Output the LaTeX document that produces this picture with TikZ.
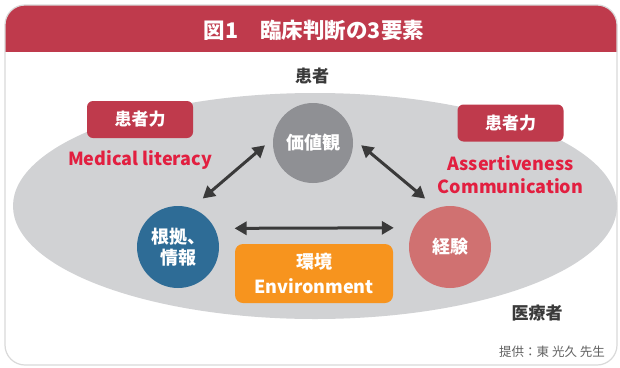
\documentclass[tikz,border=0pt]{standalone}
\usepackage{fontspec}
\setmainfont{Noto Sans CJK JP}
\usetikzlibrary{arrows.meta}

\definecolor{hdrred}{HTML}{BF3A4C}
\definecolor{litred}{HTML}{E21F40}
\definecolor{ovalgray}{HTML}{D1D2D4}
\definecolor{valgray}{HTML}{8F9094}
\definecolor{evblue}{HTML}{2E6C96}
\definecolor{expred}{HTML}{D07171}
\definecolor{envorange}{HTML}{F7941E}
\definecolor{ink}{HTML}{3A3A3A}

\tikzset{
  ball/.style={circle, minimum size=82pt, inner sep=0pt, outer sep=0pt,
    text=white, align=center, font=\fontsize{18}{21}\selectfont\bfseries},
  tagbox/.style={fill=hdrred, rounded corners=6pt, text=white,
    minimum width=106pt, minimum height=37pt, inner sep=0pt,
    font=\fontsize{17}{20}\selectfont\bfseries},
  redtext/.style={text=litred, align=center, font=\fontsize{18}{23}\selectfont\bfseries},
  rolelabel/.style={text=ink, font=\fontsize{17}{20}\selectfont\bfseries},
  link/.style={draw=ink, line width=3pt, {Triangle[length=12pt,width=13pt]}-{Triangle[length=12pt,width=13pt]}}
}

\begin{document}
\begin{tikzpicture}[x=1pt,y=-1pt]
\useasboundingbox (0,0) rectangle (620,367);

% panel and header band
\fill[white] (0,0) rectangle (620,367);
\begin{scope}
  \clip[rounded corners=20pt] (5,5) rectangle (617,365);
  \fill[white] (0,0) rectangle (620,367);
  \fill[hdrred] (0,0) rectangle (620,52);
\end{scope}
\draw[black!15, line width=1.2pt, rounded corners=20pt] (5,5) rectangle (617,365);
\node[text=white, font=\fontsize{21.5}{25}\selectfont\bfseries] (title) at (314,30) {図1\hspace{22pt}臨床判断の3要素};

% background oval
\fill[ovalgray] (315,206) ellipse [x radius=302, y radius=113];

% labels
\node[rolelabel] (patient) at (312,76) {患者};
\node[rolelabel] (staff) at (537,313) {医療者};
\node[text=ink!80, font=\fontsize{12.5}{15}\selectfont] (credit) at (552,352) {提供：東 光久 先生};

\node[tagbox] (tagL) at (140,119.5) {患者力};
\node[tagbox] (tagR) at (510.5,123) {患者力};
\node[redtext] (litL) at (140,160) {Medical literacy};
\node[redtext] (litR) at (510.5,175) {Assertiveness\\Communication};

% the three elements
\node[ball, fill=valgray, minimum size=80pt] (values) at (313,143) {価値観};
\node[ball, fill=evblue] (evidence) at (178,247) {根拠、\\情報};
\node[ball, fill=expred] (experience) at (450,247) {経験};

\node[fill=envorange, rounded corners=8pt, minimum width=158pt, minimum height=59pt,
  inner sep=0pt, text=white, align=center, font=\fontsize{18}{25}\selectfont\bfseries]
  (environment) at (314,273.5) {環境\\Environment};

% connectors
\draw[link, shorten <=15pt, shorten >=11pt] (evidence.71) -- (values.173);
\draw[link, shorten <=11pt, shorten >=15pt] (values.7) -- (experience.109);
\draw[link, shorten <=20pt, shorten >=20pt] (evidence.27.6) -- (experience.152.4);
\end{tikzpicture}
\end{document}
